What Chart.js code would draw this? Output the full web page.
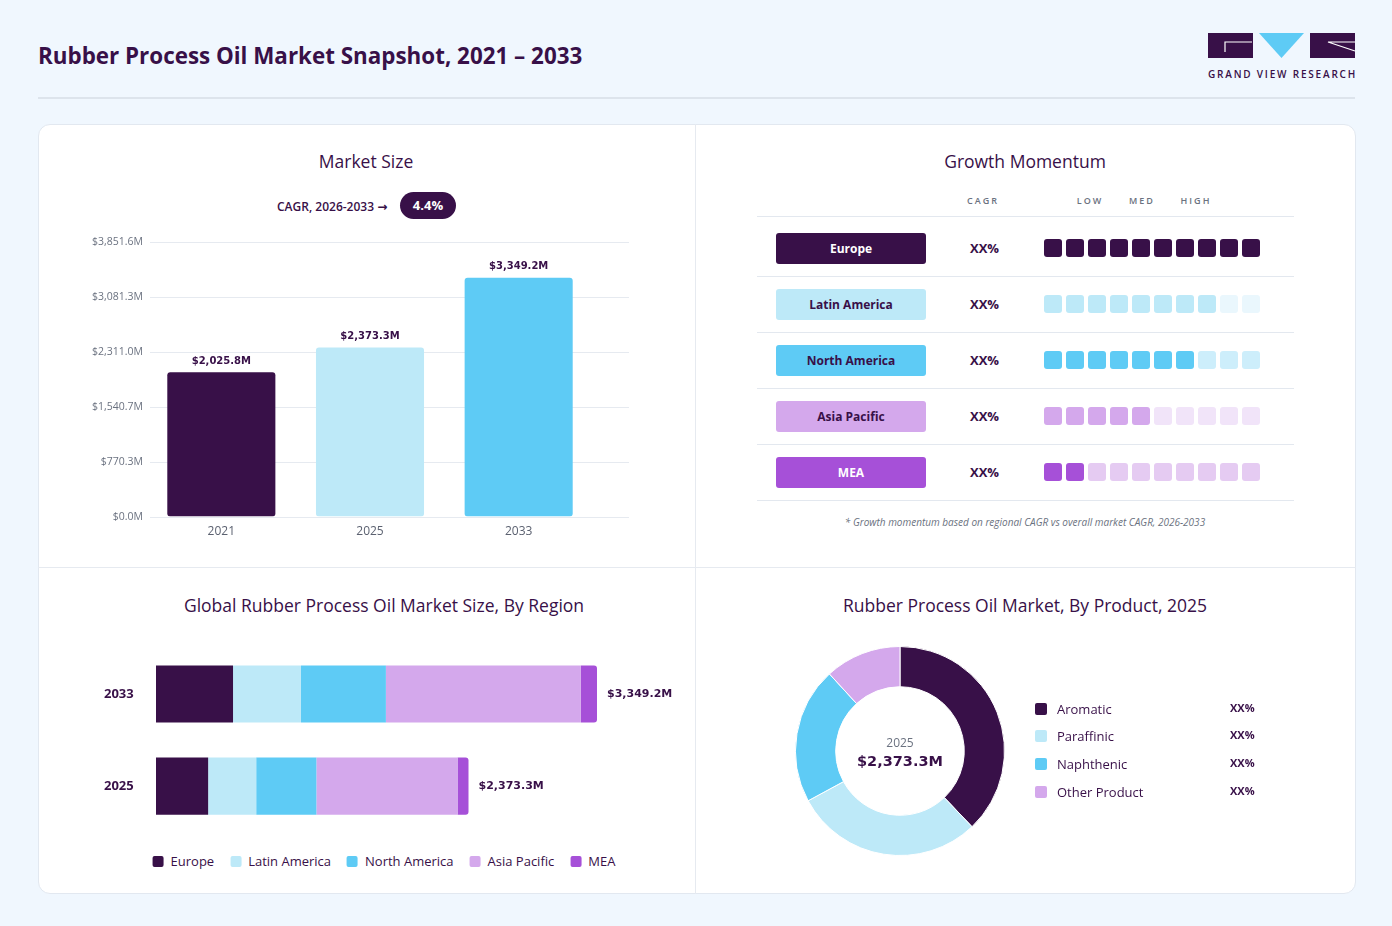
<!DOCTYPE html>
<html>
<head>
<meta charset="utf-8">
<script src="https://cdn.jsdelivr.net/npm/chart.js@4.4.1/dist/chart.umd.min.js"></script>
<style>
  body { margin: 0; width: 1392px; height: 926px; background: #f0f7fe; font-family: "Open Sans", "Noto Sans", sans-serif; color: #381048; position: relative; overflow: hidden; }
  .abs { position: absolute; }
  h1 { position: absolute; left: 38px; top: 40px; margin: 0; font-size: 22.4px; font-weight: 700; color: #381048; }
  .rule { position: absolute; left: 38px; top: 97px; width: 1317px; height: 2px; background: #dde4ec; }
  .card { position: absolute; left: 38px; top: 124px; width: 1316px; height: 768px; background: #fff; border: 1px solid #e2e8f0; border-radius: 12px; }
  .vline { position: absolute; left: 695px; top: 124px; width: 1px; height: 770px; background: #e6eaf0; }
  .hline { position: absolute; left: 38px; top: 567px; width: 1318px; height: 1px; background: #e6eaf0; }
  .ptitle { position: absolute; font-size: 17.5px; font-weight: 500; color: #381048; transform: translateX(-50%); white-space: nowrap; }
  .logo-text { position: absolute; left: 1208px; top: 67px; font-size: 10px; letter-spacing: 1.8px; font-weight: 600; color: #381048; white-space: nowrap; }
  .pill { position: absolute; left: 400px; top: 192px; width: 56px; height: 27px; border-radius: 14px; background: #381048; color: #fff; font-weight: 700; font-size: 13px; text-align: center; line-height: 27px; }
  .cagr-lbl { position: absolute; left: 277px; top: 198px; font-size: 12px; font-weight: 600; white-space: nowrap; }
  .cagr-lbl b { font-family: "DejaVu Sans", sans-serif; font-size: 12px; }
  .hdr { position: absolute; top: 194px; font-size: 9px; letter-spacing: 2px; color: #6b7280; font-weight: 600; transform: translateX(-50%); }
  .row-line { position: absolute; left: 757px; width: 537px; height: 1px; background: #e3e8ef; }
  .rpill { position: absolute; left: 776px; width: 150px; height: 31px; border-radius: 3px; font-size: 12px; font-weight: 700; text-align: center; line-height: 31px; }
  .xx { position: absolute; left: 970px; font-size: 13px; font-weight: 700; }
  .sq { position: absolute; width: 18px; height: 18px; border-radius: 3px; }
  .note { position: absolute; left: 1025px; top: 515px; transform: translateX(-50%); font-size: 10px; font-style: italic; color: #6b7280; white-space: nowrap; }
  .leg { position: absolute; top: 852px; left: 384px; transform: translateX(-50%); display: flex; gap: 16px; font-size: 13px; white-space: nowrap; }
  .leg span.b { display: inline-block; width: 11px; height: 11px; border-radius: 2px; margin-right: 7px; vertical-align: -1px; }
  .dleg { position: absolute; font-size: 13px; }
  .dleg .b { position: absolute; left: 0; top: 3px; width: 12px; height: 12px; border-radius: 2px; }
  .dleg .t { position: absolute; left: 22px; top: 0; white-space: nowrap; }
  .dleg .p { position: absolute; left: 195px; top: 0; font-size: 11px; font-weight: 700; }
  .center-year { position: absolute; left: 900px; top: 734px; transform: translateX(-50%); font-size: 12px; color: #6b7280; }
  .center-val { position: absolute; left: 900px; top: 753px; transform: translateX(-50%); font-size: 14.5px; font-weight: 700; font-family: "DejaVu Sans", sans-serif; white-space: nowrap; }
</style>
</head>
<body>
<h1>Rubber Process Oil Market Snapshot, 2021 – 2033</h1>
<svg class="abs" style="left:1208px;top:33px" width="148" height="26">
  <rect x="0" y="0" width="45" height="25" fill="#381048"/>
  <polyline points="44,9 17,9 17,19" fill="none" stroke="#fff" stroke-width="1.2"/>
  <polygon points="51,0 96,0 73.5,25" fill="#5ecbf5"/>
  <rect x="102" y="0" width="45" height="25" fill="#381048"/>
  <polyline points="147,18 120,9 147,9" fill="none" stroke="#fff" stroke-width="1.2"/>
</svg>
<div class="logo-text">GRAND VIEW RESEARCH</div>
<div class="rule"></div>
<div class="card"></div>
<div class="vline"></div>
<div class="hline"></div>

<div class="ptitle" style="left:366px;top:149px">Market Size</div>
<div class="cagr-lbl">CAGR, 2026-2033 <b>&#8594;</b></div>
<div class="pill">4.4%</div>
<canvas id="sizeChart" class="abs" width="570" height="309" style="left:60px;top:230px;width:570px;height:309px"></canvas>

<div class="ptitle" style="left:1025px;top:149px">Growth Momentum</div>
<div id="momentum"></div>
<div class="note">* Growth momentum based on regional CAGR vs overall market CAGR, 2026-2033</div>

<div class="ptitle" style="left:384px;top:593px">Global Rubber Process Oil Market Size, By Region</div>
<canvas id="regionChart" class="abs" width="576" height="200" style="left:104px;top:640px;width:576px;height:200px"></canvas>
<div class="leg" id="regionLegend"></div>

<div class="ptitle" style="left:1025px;top:593px">Rubber Process Oil Market, By Product, 2025</div>
<canvas id="productChart" class="abs" width="210" height="210" style="left:795px;top:646px;width:210px;height:210px"></canvas>
<div class="center-year">2025</div>
<div class="center-val">$2,373.3M</div>
<div id="productLegend"></div>

<script>
// Market size
const years = ['2021', '2025', '2033'];
const marketSize = [2025.8, 2373.3, 3349.2];
const sizeTicks = [0, 770.3, 1540.7, 2311.0, 3081.3, 3851.6];
const yearColors = ['#381048', '#bde9f8', '#5ecbf5'];

// Regions
const regions = ['Europe', 'Latin America', 'North America', 'Asia Pacific', 'MEA'];
const regionColors = ['#381048', '#bde9f8', '#5ecbf5', '#d4a8ec', '#a650d8'];
const regionYears = ['2033', '2025'];
const regionTotals = [3349.2, 2373.3];
const europe = [585, 396];
const latinAmerica = [516, 365];
const northAmerica = [645, 457];
const asiaPacific = [1481, 1072];
const mea = [122.2, 83.3];

// Growth momentum (filled blocks out of 10)
const momentumLevels = [10, 8, 7, 5, 2];
const momentumEmpty = ['#381048', '#eaf7fd', '#cdeefb', '#f1e4f9', '#e5cbf2'];
const pillText = ['#fff', '#381048', '#381048', '#381048', '#fff'];

// Products 2025
const products = ['Aromatic', 'Paraffinic', 'Naphthenic', 'Other Product'];
const productShare = [37.9, 29.2, 21.1, 11.8];
const productColors = ['#381048', '#bde9f8', '#5ecbf5', '#d4a8ec'];

const fmt = v => '$' + v.toLocaleString('en-US', { minimumFractionDigits: 1, maximumFractionDigits: 1 }) + 'M';

// value label above bars
const topLabels = {
    id: 'topLabels',
    afterDatasetsDraw(chart) {
        const ctx = chart.ctx;
        const meta = chart.getDatasetMeta(0);
        ctx.save();
        ctx.font = 'bold 10px "DejaVu Sans"';
        ctx.fillStyle = '#381048';
        ctx.textAlign = 'center';
        ctx.textBaseline = 'bottom';
        meta.data.forEach((bar, i) => {
            ctx.fillText(fmt(marketSize[i]), bar.x, bar.y - 6);
        });
        ctx.restore();
    }
};

// y grid lines run a little past the bar area
const gridExt = {
    id: 'gridExt',
    beforeDatasetsDraw(chart) {
        const ctx = chart.ctx;
        const y = chart.scales.y;
        const area = chart.chartArea;
        ctx.save();
        ctx.strokeStyle = '#e6eaf0';
        ctx.lineWidth = 1;
        sizeTicks.forEach(v => {
            const py = Math.round(y.getPixelForValue(v)) + 0.5;
            ctx.beginPath();
            ctx.moveTo(area.left + 3, py);
            ctx.lineTo(area.right + 36, py);
            ctx.stroke();
        });
        ctx.restore();
    }
};

new Chart(document.getElementById('sizeChart'), {
    type: 'bar',
    data: {
        labels: years,
        datasets: [{
            data: marketSize,
            backgroundColor: yearColors,
            borderRadius: 3,
            borderSkipped: false,
            categoryPercentage: 0.727,
            barPercentage: 1
        }]
    },
    options: {
        responsive: false,
        maintainAspectRatio: false,
        devicePixelRatio: 1,
        animation: false,
        layout: { padding: { top: 12, right: 37 } },
        plugins: { legend: { display: false }, tooltip: { enabled: false } },
        scales: {
            x: {
                grid: { display: false },
                border: { display: false },
                ticks: { color: '#5b6170', font: { size: 12, family: 'Open Sans' }, padding: 0 }
            },
            y: {
                min: 0,
                max: sizeTicks[sizeTicks.length - 1],
                afterFit: s => { s.width = 87; },
                afterBuildTicks: s => { s.ticks = sizeTicks.map(v => ({ value: v })); },
                grid: { display: false, drawTicks: false },
                border: { display: false },
                ticks: { color: '#6b7280', font: { size: 10.5, family: 'Open Sans' }, padding: 4, callback: v => fmt(v) }
            }
        }
    },
    plugins: [gridExt, topLabels]
});

// Growth momentum table
const mom = document.getElementById('momentum');
let html = '';
[['CAGR', 983], ['LOW', 1090], ['MED', 1142], ['HIGH', 1196]].forEach(h => {
    html += `<div class="hdr" style="left:${h[1]}px">${h[0]}</div>`;
});
html += `<div class="row-line" style="top:216px"></div>`;
regions.forEach((name, i) => {
    const cy = 248 + i * 56;
    html += `<div class="row-line" style="top:${276 + i * 56}px"></div>`;
    html += `<div class="rpill" style="top:${cy - 15}px;background:${regionColors[i]};color:${pillText[i]}">${name}</div>`;
    html += `<div class="xx" style="top:${cy - 9}px">XX%</div>`;
    for (let k = 0; k < 10; k++) {
        const c = k < momentumLevels[i] ? regionColors[i] : momentumEmpty[i];
        html += `<div class="sq" style="left:${1044 + k * 22}px;top:${cy - 9}px;background:${c}"></div>`;
    }
});
mom.innerHTML = html;

// Region stacked bars
const regionData = [europe, latinAmerica, northAmerica, asiaPacific, mea];
const totalLabels = {
    id: 'totalLabels',
    afterDatasetsDraw(chart) {
        const ctx = chart.ctx;
        const meta = chart.getDatasetMeta(regionData.length - 1);
        ctx.save();
        ctx.font = 'bold 11px "DejaVu Sans"';
        ctx.fillStyle = '#381048';
        ctx.textAlign = 'left';
        ctx.textBaseline = 'middle';
        meta.data.forEach((bar, i) => {
            ctx.fillText(fmt(regionTotals[i]), bar.x + 10, bar.y);
        });
        ctx.restore();
    }
};

new Chart(document.getElementById('regionChart'), {
    type: 'bar',
    data: {
        labels: regionYears,
        datasets: regions.map((name, i) => ({
            label: name,
            data: regionData[i],
            backgroundColor: regionColors[i],
            borderRadius: (i === 0 || i === regions.length - 1) ? 3 : 0,
            borderSkipped: i === 0 ? 'end' : (i === regions.length - 1 ? 'start' : false),
            categoryPercentage: 0.62,
            barPercentage: 1
        }))
    },
    options: {
        indexAxis: 'y',
        responsive: false,
        maintainAspectRatio: false,
        devicePixelRatio: 1,
        animation: false,
        layout: { padding: { top: 8, right: 83, bottom: 0 } },
        plugins: { legend: { display: false }, tooltip: { enabled: false } },
        scales: {
            x: { stacked: true, display: false, min: 0, max: regionTotals[0] },
            y: {
                stacked: true,
                afterFit: s => { s.width = 52; },
                grid: { display: false, drawTicks: false },
                border: { display: false },
                ticks: { color: '#381048', font: { size: 13, weight: 'bold', family: 'Open Sans' }, padding: 0, crossAlign: 'far' }
            }
        }
    },
    plugins: [totalLabels]
});

document.getElementById('regionLegend').innerHTML = regions.map((n, i) =>
    `<div><span class="b" style="background:${regionColors[i]}"></span>${n}</div>`).join('');

// Product donut
new Chart(document.getElementById('productChart'), {
    type: 'doughnut',
    data: {
        labels: products,
        datasets: [{
            data: productShare,
            backgroundColor: productColors,
            borderColor: '#fff',
            borderWidth: 1
        }]
    },
    options: {
        responsive: false,
        maintainAspectRatio: false,
        devicePixelRatio: 1,
        animation: false,
        cutout: '61.5%',
        plugins: { legend: { display: false }, tooltip: { enabled: false } }
    }
});

document.getElementById('productLegend').innerHTML = products.map((n, i) =>
    `<div class="dleg" style="left:1035px;top:${700 + [0, 27, 55, 83][i]}px">
       <span class="b" style="background:${productColors[i]}"></span>
       <span class="t">${n}</span><span class="p">XX%</span></div>`).join('');
</script>
</body>
</html>
